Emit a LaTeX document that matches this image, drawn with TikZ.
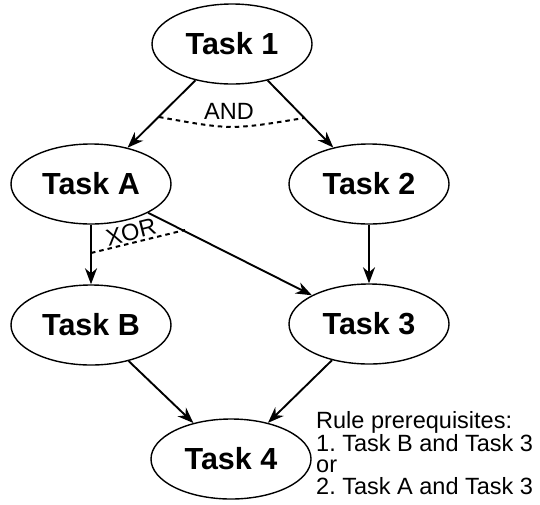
\documentclass[tikz,border=0pt]{standalone}
\usepackage{fontspec}
\setmainfont{Liberation Sans}
\usetikzlibrary{shapes.geometric,arrows.meta}
\begin{document}
\frenchspacing
\begin{tikzpicture}[x=1pt,y=-1pt,
  task/.style={ellipse,draw,line width=1.4pt,minimum width=160pt,minimum height=80pt,
    inner sep=0pt,font=\fontsize{30.5}{34}\selectfont\bfseries},
  flow/.style={line width=1.9pt,-{Stealth[length=16pt,width=12pt,inset=5pt]}},
  gate/.style={line width=2pt,dash pattern=on 4.5pt off 4pt},
  gatelabel/.style={font=\fontsize{23.5}{24}\selectfont,inner sep=0pt}]
\useasboundingbox (0,0) rectangle (540,504);

% tasks
\node[task] (t1) at (232,44) {Task 1};
\node[task] (ta) at (91,184) {Task A};
\node[task] (t2) at (369,184) {Task 2};
\node[task] (tb) at (91,325) {Task B};
\node[task] (t3) at (369,324) {Task 3};
\node[task] (t4) at (231,459) {Task 4};

% dependencies
\draw[flow] (t1) -- (ta);
\draw[flow] (t1) -- (t2);
\draw[flow] (ta) -- (tb);
\draw[flow] (ta) -- (t3);
\draw[flow] (t2) -- (t3);
\draw[flow] (tb) -- (t4);
\draw[flow] (t3) -- (t4);

% AND gate on the branches of Task 1
\coordinate (and1) at (159,117);
\coordinate (and2) at (304,118);
\draw[gate] (and1) .. controls (231,130) .. (and2);
\node[gatelabel] (andl) at (229,111) {AND};

% XOR gate on the branches of Task A
\coordinate (xor1) at (91,253);
\coordinate (xor2) at (185,230);
\draw[gate] (xor1) -- (xor2);
\node[gatelabel,rotate=14] (xorl) at (131,232) {XOR};

% rule annotation
\node[anchor=base west,align=left,inner sep=0pt,
  font=\fontsize{23.5}{21.5}\selectfont] (rule) at (316,494)
  {Rule prerequisites:\\1. Task B and Task 3\\or\\2. Task A and Task 3};
\end{tikzpicture}
\end{document}
